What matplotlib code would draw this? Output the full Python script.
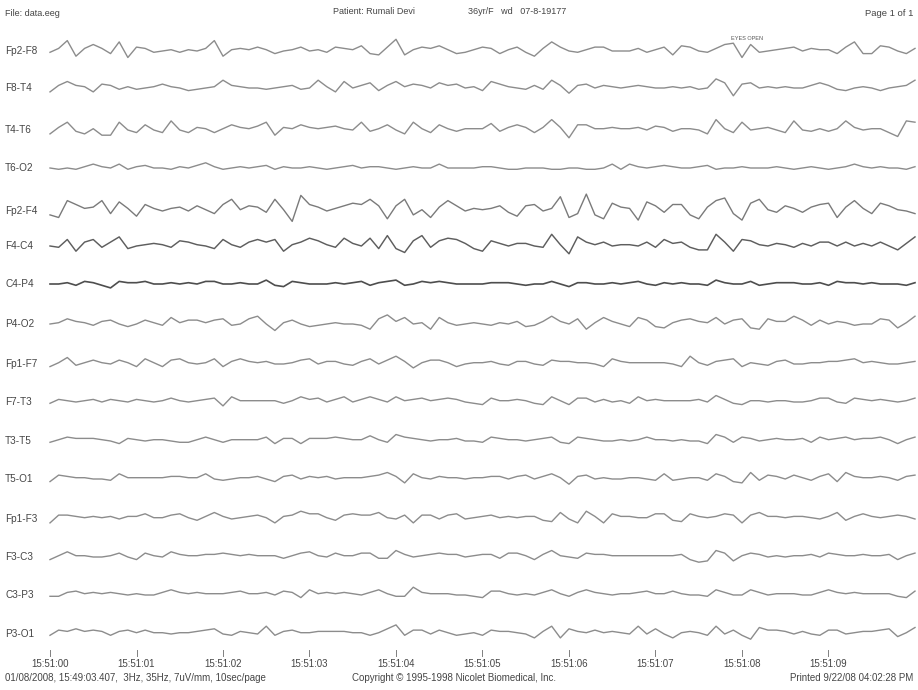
import numpy as np
import matplotlib
matplotlib.use("Agg")
import matplotlib.pyplot as plt

plt.rcParams['font.family'] = ['Liberation Sans', 'DejaVu Sans']

channels = ["Fp2-F8", "F8-T4", "T4-T6", "T6-O2", "Fp2-F4", "F4-C4", "C4-P4", "P4-O2",
            "Fp1-F7", "F7-T3", "T3-T5", "T5-O1", "Fp1-F3", "F3-C3", "C3-P3", "P3-O1"]

# amplitude samples (10 per second, 0..10 s), read from the page
fp2_f8 = [-1,2,8,-4,2,5,2,-2,7,-5,3,2,-1,0,1,-1,1,0,2,8,-4,1,2,1,3,1,-2,0,1,3,0,1,-1,3,2,1,4,-2,-3,3,9,-3,1,3,2,4,1,-2,
          -1,1,3,2,-2,1,3,-1,-4,2,7,3,0,-1,1,3,3,0,0,0,2,-1,1,3,-3,4,3,0,-1,2,5,6,-5,5,-1,0,1,2,3,0,2,1,1,-2,3,7,-2,-2,4,3,0,-2,2]
f8_t4 = [-3,2,5,2,1,-3,3,2,-1,1,-1,0,1,3,1,0,-2,-1,0,1,6,2,1,0,0,-1,0,1,2,-1,0,6,1,-3,5,0,2,4,-2,2,5,1,3,2,0,4,2,3,
         0,1,-2,5,3,1,0,-1,2,-1,6,2,-4,2,3,0,2,1,0,1,2,1,0,0,1,0,1,-1,0,7,4,-6,3,4,0,1,0,1,0,0,2,4,2,-1,-2,0,1,0,-2,0,1,2,6]
t4_t6 = [-3,2,6,-1,-3,1,-4,-4,6,0,-2,4,0,-2,7,0,-2,2,1,-2,1,4,2,1,3,6,-4,2,1,4,2,1,2,3,1,0,6,-1,1,4,0,-3,6,1,-2,4,1,-1,
         1,1,1,5,-1,2,4,2,-2,2,8,2,-6,4,4,1,1,2,1,1,2,0,3,2,-1,1,1,0,-3,8,1,-2,6,0,1,2,0,-2,7,0,-1,1,-1,1,7,2,0,1,1,-2,-5,7,6]
t6_o2 = [0,-1,0,-1,1,3,1,0,3,-1,1,2,0,0,-1,1,0,2,4,1,-1,0,1,0,1,2,-1,1,0,0,1,0,-1,0,1,2,0,1,1,0,-1,0,1,0,0,3,0,0,
         0,0,1,1,0,-1,-1,0,0,0,-1,-1,0,0,-1,-1,0,3,-1,3,1,0,1,2,1,0,0,1,2,-1,0,0,1,0,0,0,1,0,-1,0,1,0,-1,0,1,3,1,0,1,0,0,-1,1]
fp2_f4 = [-3,-5,8,5,2,3,8,-2,7,2,-4,5,2,0,2,3,0,4,1,-2,5,9,1,4,3,-1,9,1,-8,12,5,3,0,2,4,6,5,9,4,-6,4,9,-3,1,-5,3,8,4,
          0,2,1,2,4,-1,-4,4,5,0,2,11,-5,-2,13,-3,-6,6,3,2,-7,7,4,-1,5,5,-3,-6,3,8,10,-2,-7,6,9,1,-1,4,2,-1,3,5,6,-5,3,8,2,-2,6,4,1,0,-2]
f4_c4 = [0,-1,5,-4,3,5,-1,3,7,-2,0,1,2,1,-1,4,3,1,0,-2,5,1,-1,3,5,3,5,-4,1,3,6,4,1,-1,6,2,0,6,-2,8,-2,-5,4,8,-1,4,6,5,
         2,-2,-4,4,2,0,2,2,0,-1,9,1,-6,7,3,1,3,0,1,1,0,3,-1,5,2,3,-1,-3,-3,9,3,-4,5,4,1,0,2,1,-1,2,0,3,3,0,3,0,2,0,3,0,-3,2,7]
c4_p4 = [0,0,1,-1,2,1,-1,-3,2,1,1,2,0,0,1,0,1,0,2,2,0,0,1,0,0,3,-1,-2,2,1,0,0,0,1,0,1,2,-1,1,2,3,-1,0,2,1,2,1,0,
         0,0,0,1,1,1,0,-1,0,0,2,0,-2,1,1,0,0,1,0,1,2,0,-1,1,0,1,0,0,-1,3,1,0,0,2,-1,0,1,1,1,0,0,1,-1,2,1,1,0,1,0,0,0,-1,1]
p4_o2 = [0,1,4,2,1,-1,2,3,0,-2,0,3,1,-1,5,1,3,3,1,3,4,-1,0,4,6,0,-5,1,3,0,-2,-1,0,1,0,0,-1,-4,4,7,2,5,0,1,-4,5,1,-1,
         0,1,0,-1,1,0,2,-2,-1,2,6,2,0,4,-4,1,5,2,0,-2,5,3,-2,-3,1,3,4,2,1,5,0,3,4,-3,-4,4,2,2,6,3,-1,3,0,2,1,-1,0,0,4,3,-3,1,6]
fp1_f7 = [-2,1,5,-1,1,3,1,0,3,1,-2,4,1,-2,3,4,1,0,1,4,-2,2,4,2,1,2,0,0,1,3,4,0,2,2,0,-1,2,4,0,3,6,2,-3,1,3,3,1,-2,
          0,1,1,2,0,-1,2,2,0,-1,3,2,2,1,1,0,-2,4,2,1,1,1,1,1,0,-2,6,1,-1,2,3,4,-2,1,0,-1,2,3,0,0,1,1,2,2,3,4,1,2,1,0,0,1,2]
f7_t3 = [-1,2,1,0,1,2,0,2,1,0,2,1,0,1,3,1,0,1,2,3,-3,4,1,1,1,1,1,-1,1,4,2,3,0,2,4,0,2,4,2,0,4,1,2,3,1,2,3,2,
         0,-1,-2,3,1,1,2,1,-1,-2,4,1,-2,3,3,0,2,0,1,-1,4,1,2,1,1,1,1,2,0,5,2,-1,-2,1,1,0,1,1,0,0,1,3,3,0,-1,3,2,1,2,1,0,1,3]
t3_t5 = [-1,1,3,2,2,2,1,0,-2,2,1,0,1,1,0,-1,-1,1,3,1,-1,1,1,1,1,3,-2,2,2,-2,2,2,2,3,2,1,1,4,1,-1,5,3,2,1,0,1,1,2,
         0,0,-1,3,2,1,1,0,1,2,3,-1,-2,3,2,1,0,0,1,0,1,3,1,1,0,1,0,0,-2,5,3,-1,3,2,0,1,2,1,1,2,-1,3,1,2,3,1,2,2,3,1,-2,1,3]
t5_o1 = [-2,3,2,1,1,0,0,-1,4,1,1,1,1,1,2,2,1,1,4,0,-1,0,1,1,2,0,-2,2,3,0,2,1,2,0,1,1,1,2,3,5,2,-3,4,1,0,2,1,1,
         0,1,1,2,2,0,2,3,0,2,4,1,-4,2,3,0,1,0,0,1,1,0,-1,4,-1,0,1,1,-1,4,2,-2,-3,5,-1,3,2,0,3,1,-1,2,4,-2,5,2,1,1,2,1,-1,2,3]
fp1_f3 = [-3,3,3,2,1,2,1,2,0,2,2,4,1,1,3,4,1,-1,2,5,2,0,1,2,3,1,-3,2,3,6,4,4,1,-1,3,4,3,3,5,1,0,3,-3,3,3,0,3,4,
          0,1,2,3,1,2,1,2,2,-1,-2,5,0,-3,6,2,-3,4,2,2,1,1,4,4,-1,-2,4,2,1,2,4,3,-3,3,5,2,2,1,2,2,1,0,2,5,-1,2,4,2,1,2,3,2,0]
f3_c3 = [-2,1,4,1,1,0,0,1,3,0,-2,3,1,0,4,2,1,1,2,2,3,2,1,2,1,1,1,-1,1,3,4,1,0,3,1,1,3,3,-1,-1,5,2,0,1,2,3,2,2,
         0,1,2,2,-1,3,3,1,-2,2,5,1,0,-1,3,2,2,1,1,1,1,1,1,1,1,2,-2,-4,-3,5,3,-3,1,3,2,0,1,0,1,1,2,0,3,2,1,1,2,1,1,2,-2,1,3]
c3_p3 = [-1,-1,2,3,1,2,1,2,1,0,1,0,0,2,4,2,1,2,1,1,1,2,3,1,1,2,0,3,2,-2,4,1,2,1,2,1,0,2,4,1,-1,-1,6,2,1,1,1,0,
         0,-1,-2,3,3,1,0,1,0,2,4,1,-1,2,4,2,1,0,1,1,2,3,1,1,3,1,0,0,-1,4,2,0,0,4,2,0,1,1,1,0,0,2,4,2,1,2,1,1,1,1,-1,-2,3]
p3_o1 = [-1,3,2,4,2,3,2,-1,2,3,1,3,1,1,0,1,1,2,3,4,0,-1,2,1,0,6,-1,2,3,1,1,2,2,2,2,1,1,-1,1,4,7,-1,3,3,0,3,1,-1,
         0,1,-1,3,2,2,1,0,-3,2,6,-3,4,2,1,3,1,2,1,0,6,0,4,0,-3,1,2,1,-1,6,0,3,-1,-4,5,3,3,2,0,2,0,-1,3,3,0,1,2,2,3,4,-2,1,5]

signals = [fp2_f8, f8_t4, t4_t6, t6_o2, fp2_f4, f4_c4, c4_p4, p4_o2,
           fp1_f7, f7_t3, t3_t5, t5_o1, fp1_f3, f3_c3, c3_p3, p3_o1]

tick_seconds = list(range(10))
tick_labels = ["15:51:00", "15:51:01", "15:51:02", "15:51:03", "15:51:04",
               "15:51:05", "15:51:06", "15:51:07", "15:51:08", "15:51:09"]

# layout (pixels)
W, H = 918, 690
x0 = 50.0
pps = 86.5
gain = 1.3
baselines = [51, 88, 130, 168, 211, 246, 284, 324, 364, 402, 441, 479, 519, 557, 595, 634]
colors = ["#8c8c8c"] * 16
colors[4] = "#7a7a7a"
colors[5] = "#5e5e5e"
colors[6] = "#4e4e4e"
lws = [1.0] * 16
lws[5] = 1.05
lws[6] = 1.2

fig = plt.figure(figsize=(W / 100, H / 100), dpi=100)
ax = fig.add_axes([0, 0, 1, 1])
ax.set_xlim(-x0 / pps, (W - x0) / pps)
ax.set_ylim(H, 0)
ax.axis("off")

txt = "#454545"
for name, sig, base, c, lw in zip(channels, signals, baselines, colors, lws):
    v = np.asarray(sig, dtype=float) * gain
    t = np.linspace(0, 10, len(v))
    ax.plot(t, base - v, color=c, lw=lw, solid_joinstyle="round")
    ax.text(-45 / pps, base, name, fontsize=7.2, color=txt, va="center", ha="left")

for s, lab in zip(tick_seconds, tick_labels):
    ax.plot([s, s], [650, 656], color="#808080", lw=0.7)
    ax.text(s, 664, lab, fontsize=7, color=txt, ha="center", va="center")

ax.text(-45 / pps, 14, "File: data.eeg", fontsize=6.5, color=txt, va="center")
ax.text((333 - x0) / pps, 12, "Patient: Rumali Devi", fontsize=6.5, color=txt, va="center")
ax.text((468 - x0) / pps, 12, "36yr/F   wd   07-8-19177", fontsize=6.5, color=txt, va="center")
ax.text((913 - x0) / pps, 14, "Page 1 of 1", fontsize=6.8, color=txt, va="center", ha="right")
ax.text((731 - x0) / pps, 39, "EYES OPEN", fontsize=4, color="#555555", va="center")
ax.text(-45 / pps, 678, "01/08/2008, 15:49:03.407,  3Hz, 35Hz, 7uV/mm, 10sec/page",
        fontsize=7, color=txt, va="center")
ax.text((352 - x0) / pps, 678, "Copyright \u00a9 1995-1998 Nicolet Biomedical, Inc.",
        fontsize=7, color=txt, va="center")
ax.text((913 - x0) / pps, 678, "Printed 9/22/08 04:02:28 PM", fontsize=7, color=txt,
        va="center", ha="right")

fig.savefig("out.png", dpi=100, facecolor="white")
